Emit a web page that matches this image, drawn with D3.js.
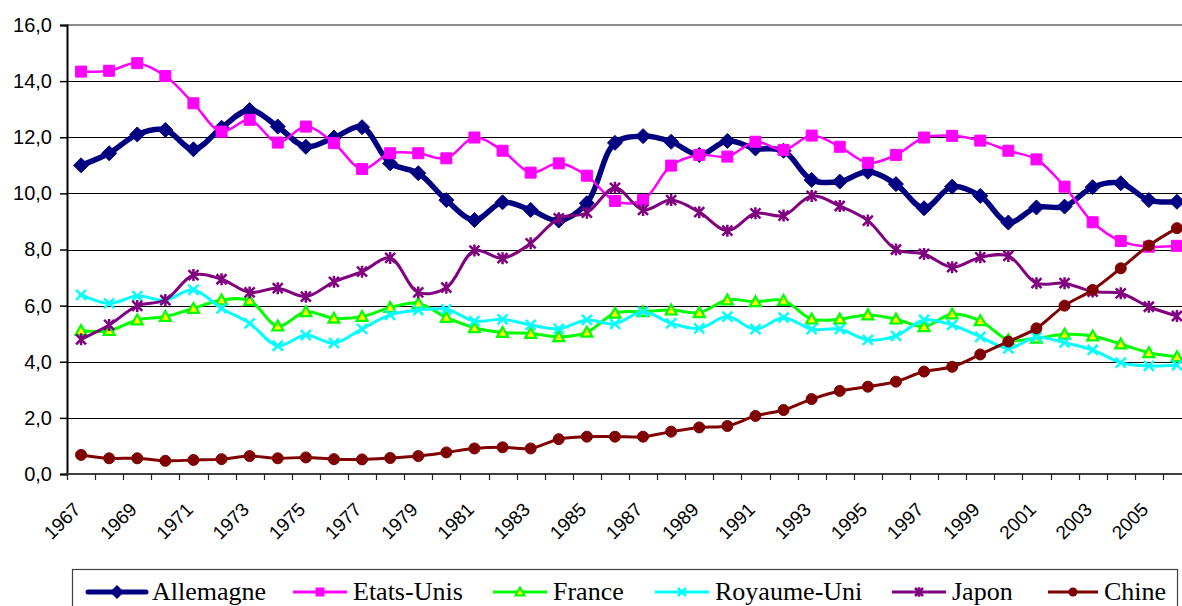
<!DOCTYPE html>
<html><head><meta charset="utf-8">
<script src="https://cdn.jsdelivr.net/npm/d3@7"></script>
<style>body{margin:0;background:#fff}svg{display:block}</style>
</head><body><svg id="c" width="1182" height="606"></svg>
<script>
const years = ["1967","1968","1969","1970","1971","1972","1973","1974","1975","1976","1977","1978","1979","1980","1981","1982","1983","1984","1985","1986","1987","1988","1989","1990","1991","1992","1993","1994","1995","1996","1997","1998","1999","2000","2001","2002","2003","2004","2005","2006"];
const tickLabels = ["1967","1969","1971","1973","1975","1977","1979","1981","1983","1985","1987","1989","1991","1993","1995","1997","1999","2001","2003","2005"];
const yTicks = [0,2,4,6,8,10,12,14,16];
const seriesNames = ["Allemagne","Etats-Unis","France","Royaume-Uni","Japon","Chine"];
const allemagne = [11.0,11.43,12.1,12.26,11.57,12.34,12.97,12.38,11.66,11.99,12.36,11.07,10.72,9.76,9.05,9.68,9.41,9.03,9.65,11.8,12.04,11.84,11.37,11.87,11.6,11.52,10.48,10.42,10.77,10.33,9.47,10.24,9.91,8.96,9.5,9.53,10.22,10.36,9.76,9.7];
const etatsUnis = [14.34,14.37,14.64,14.18,13.21,12.2,12.62,11.81,12.38,11.79,10.87,11.43,11.43,11.25,11.99,11.52,10.74,11.07,10.63,9.73,9.76,10.99,11.37,11.31,11.84,11.55,12.06,11.66,11.09,11.37,11.99,12.05,11.88,11.52,11.21,10.24,8.97,8.3,8.1,8.13];
const france = [5.11,5.11,5.49,5.61,5.9,6.2,6.18,5.27,5.78,5.55,5.61,5.93,6.08,5.58,5.21,5.04,5.01,4.89,5.05,5.73,5.78,5.84,5.75,6.2,6.14,6.18,5.52,5.52,5.67,5.52,5.25,5.7,5.46,4.78,4.84,4.98,4.92,4.63,4.32,4.18];
const royaumeUni = [6.38,6.08,6.34,6.2,6.56,5.9,5.37,4.57,4.95,4.66,5.17,5.67,5.84,5.87,5.45,5.51,5.31,5.17,5.49,5.35,5.78,5.37,5.19,5.61,5.16,5.57,5.16,5.16,4.78,4.92,5.49,5.31,4.89,4.48,4.87,4.68,4.42,3.97,3.85,3.88];
const japon = [4.8,5.31,5.99,6.2,7.09,6.94,6.47,6.62,6.32,6.85,7.21,7.7,6.47,6.64,7.96,7.69,8.22,9.11,9.31,10.2,9.41,9.76,9.33,8.67,9.29,9.21,9.91,9.55,9.03,8.0,7.84,7.37,7.72,7.77,6.8,6.8,6.5,6.44,5.96,5.63];
const chine = [0.68,0.56,0.56,0.47,0.5,0.53,0.64,0.56,0.59,0.53,0.52,0.57,0.64,0.77,0.91,0.95,0.91,1.24,1.33,1.33,1.33,1.51,1.66,1.71,2.07,2.28,2.67,2.96,3.11,3.29,3.65,3.82,4.26,4.72,5.19,6.0,6.56,7.33,8.14,8.76];

const seriesValues = [allemagne, etatsUnis, france, royaumeUni, japon, chine];
const styles = [
  {color:"#000080", width:5.5, marker:"diamond"},
  {color:"#FF00FF", width:2.5, marker:"square"},
  {color:"#00FF00", width:3, marker:"triangle"},
  {color:"#00FFFF", width:3, marker:"x"},
  {color:"#800080", width:3, marker:"star"},
  {color:"#800000", width:3, marker:"circle"}
];

const svg = d3.select("#c");
const pLeft = 67, pTop = 25, pBottom = 474;
const bandW = 28.1;
const pRight = pLeft + bandW * years.length;

const x = d3.scaleBand().domain(years).range([pLeft, pRight]);
const y = d3.scaleLinear().domain([0,16]).range([pBottom, pTop]);
const cx = d => x(d) + x.bandwidth()/2;

// gridlines
svg.append("g").selectAll("line").data(yTicks.filter(v => v > 0 && v < 16)).join("line")
  .attr("x1", pLeft).attr("x2", pRight)
  .attr("y1", d => Math.round(y(d)) + 0.5).attr("y2", d => Math.round(y(d)) + 0.5)
  .attr("stroke", "#000").attr("stroke-width", 1);

// top border
svg.append("line").attr("x1", pLeft).attr("x2", pRight).attr("y1", pTop).attr("y2", pTop)
  .attr("stroke", "#8c8c8c").attr("stroke-width", 2);

// y axis
const yAxis = d3.axisLeft(y).tickValues(yTicks).tickSize(7).tickPadding(8)
  .tickFormat(d => d3.format(".1f")(d).replace(".", ","));
const gy = svg.append("g").attr("transform", `translate(${pLeft},0)`).call(yAxis);
gy.select(".domain").attr("stroke", "#000").attr("stroke-width", 2);
gy.selectAll(".tick line").attr("stroke", "#000").attr("stroke-width", 1.5);
gy.selectAll(".tick text").attr("font-family", "'Liberation Sans', Arial, sans-serif")
  .attr("font-size", 20).attr("fill", "#000");

// x axis line and ticks
svg.append("line").attr("x1", pLeft).attr("x2", pRight).attr("y1", pBottom).attr("y2", pBottom)
  .attr("stroke", "#404040").attr("stroke-width", 2);
const boundaries = years.map(d => x(d)).concat([pRight]);
svg.append("g").selectAll("line").data(boundaries).join("line")
  .attr("x1", d => Math.round(d) + 0.5).attr("x2", d => Math.round(d) + 0.5)
  .attr("y1", pBottom).attr("y2", pBottom + 6)
  .attr("stroke", "#222").attr("stroke-width", 1.2);

// x labels
svg.append("g").selectAll("text").data(tickLabels).join("text")
  .attr("transform", d => `translate(${cx(d) - 9},${501}) rotate(-45)`)
  .attr("text-anchor", "end").attr("dy", "0.72em")
  .attr("font-family", "'Liberation Sans', Arial, sans-serif").attr("font-size", 19)
  .attr("fill", "#000").text(d => d);

function markerPath(type, s) {
  switch (type) {
    case "diamond": return `M0,${-s}L${s},0L0,${s}L${-s},0Z`;
    case "square": return `M${-s},${-s}H${s}V${s}H${-s}Z`;
    case "triangle": return `M0,${-s}L${s},${s*0.8}L${-s},${s*0.8}Z`;
    case "x": return `M${-s},${-s}L${s},${s}M${s},${-s}L${-s},${s}`;
    case "star": return `M${-s},${-s}L${s},${s}M${s},${-s}L${-s},${s}M0,${-s*1.2}V${s*1.2}`;
    default: return "";
  }
}
function drawMarker(g, type, color) {
  if (type === "circle") {
    g.append("circle").attr("r", 5.5).attr("fill", color).attr("stroke", color);
  } else if (type === "triangle") {
    g.append("path").attr("d", markerPath(type, 5.5)).attr("fill", "#FFFF00")
      .attr("stroke", color).attr("stroke-width", 2.2);
  } else if (type === "x" || type === "star") {
    g.append("path").attr("d", markerPath(type, 5)).attr("fill", "none")
      .attr("stroke", color).attr("stroke-width", 2.5);
  } else if (type === "diamond") {
    g.append("path").attr("d", markerPath(type, 7.5)).attr("fill", color).attr("stroke", color);
  } else if (type === "square") {
    g.append("path").attr("d", markerPath(type, 5.5)).attr("fill", color).attr("stroke", color);
  }
}

const line = d3.line().x((v, i) => cx(years[i])).y(v => y(v)).curve(d3.curveCatmullRom.alpha(0.5));

const plot = svg.append("g");
seriesValues.forEach((vals, si) => {
  const st = styles[si];
  const g = plot.append("g");
  g.append("path").attr("d", line(vals)).attr("fill", "none")
    .attr("stroke", st.color).attr("stroke-width", st.width)
    .attr("stroke-linejoin", "round").attr("stroke-linecap", "round");
  vals.forEach((v, i) => {
    const m = g.append("g").attr("transform", `translate(${cx(years[i])},${y(v)})`);
    drawMarker(m, st.marker, st.color);
  });
});

// legend
const legX = [88, 293, 493, 655, 892, 1048];
const legLineW = [58, 54, 54, 54, 54, 50];
svg.append("rect").attr("x", 72.5).attr("y", 569.5).attr("width", 1105).attr("height", 60)
  .attr("fill", "#fff").attr("stroke", "#404040").attr("stroke-width", 1.2);
seriesNames.forEach((name, si) => {
  const st = styles[si];
  const lx = legX[si], lw = legLineW[si], ly = 592;
  svg.append("line").attr("x1", lx).attr("x2", lx + lw).attr("y1", ly).attr("y2", ly)
    .attr("stroke", st.color).attr("stroke-width", si === 0 ? 5 : 3).attr("stroke-linecap", si === 0 ? "round" : "butt");
  const m = svg.append("g").attr("transform", `translate(${lx + lw/2},${ly})`);
  if (si === 0) {
    m.append("path").attr("d", markerPath("diamond", 7)).attr("fill", st.color);
  } else if (st.marker === "circle") {
    m.append("circle").attr("r", 4.5).attr("fill", st.color);
  } else if (st.marker === "triangle") {
    m.append("path").attr("d", markerPath("triangle", 4.5)).attr("fill", "#FFFF00").attr("stroke", st.color).attr("stroke-width", 2);
  } else if (st.marker === "square") {
    m.append("path").attr("d", markerPath("square", 4.5)).attr("fill", st.color);
  } else {
    m.append("path").attr("d", markerPath(st.marker, 4)).attr("fill", "none").attr("stroke", st.color).attr("stroke-width", 2.5);
  }
  svg.append("text").attr("x", lx + lw + 6).attr("y", 600)
    .attr("font-family", "'Liberation Serif', 'Times New Roman', serif").attr("font-size", 26)
    .attr("fill", "#000").text(name);
});
</script></body></html>
